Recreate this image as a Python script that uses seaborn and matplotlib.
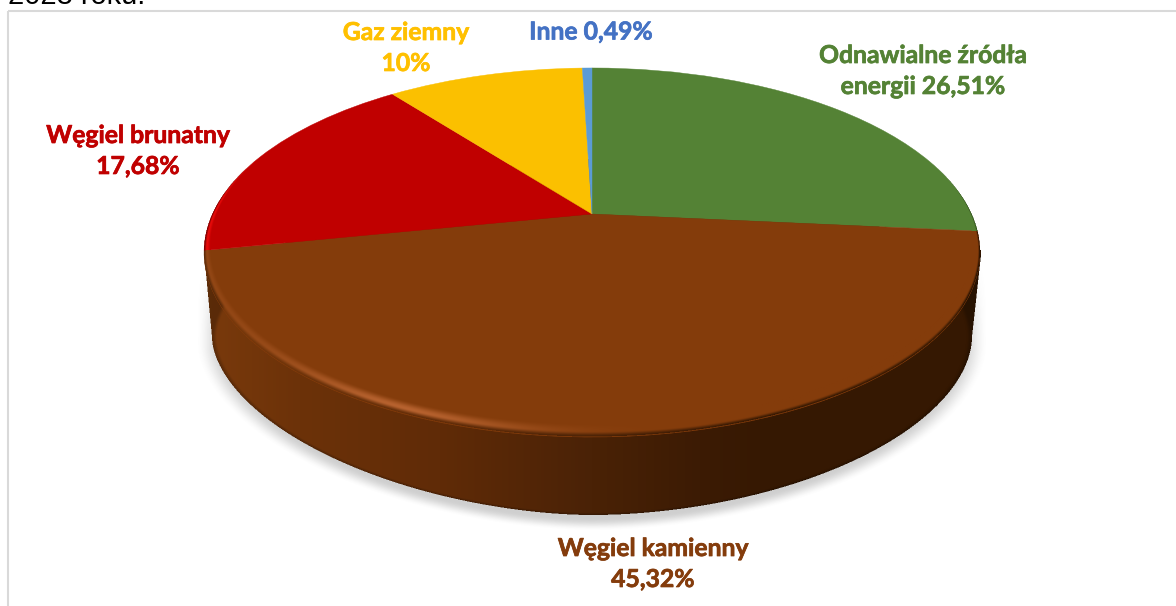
import numpy as np
import matplotlib
matplotlib.use("Agg")
import matplotlib.pyplot as plt
import matplotlib.patheffects as pe
from matplotlib.transforms import Transform
from matplotlib.patches import Rectangle
import seaborn as sns

# ---- data, clockwise from 12 o'clock ----
sources = ["Odnawialne źródła\nenergii", "Węgiel kamienny\n", "Węgiel brunatny\n", "Gaz ziemny\n", "Inne"]
shares = [26.51, 45.32, 17.68, 10.0, 0.49]
share_labels = ["26,51%", "45,32%", "17,68%", "10%", "0,49%"]
slice_colors = ["#548235", "#843c0b", "#c00000", "#fbc000", "#5b9bd5"]
label_colors = ["#548235", "#843c0c", "#c00000", "#ffc000", "#4472c4"]
caption = "2023 roku."

# ---- layout (pixels) ----
W, H = 1176, 606
label_xy = [(923, 71), (653, 564), (138, 151), (406, 48), (591, 32)]
CX, CY = 592.0, 214.0          # image of the pie centre
PA, PB, PC = 176.5, 0.2087, 379.4  # perspective of the top face
TOP = (252.0, 388.0, 184.5)    # outline of the top face: centre y, semi axes
INNER = (245.5, 381.0, 177.5)  # inner edge of the rounded rim
BOTTOM = (337.0, 380.0, 178.0) # outline of the base
SS = 2


class Tilt(Transform):
    input_dims = output_dims = 2
    is_separable = False
    has_inverse = False

    def transform_non_affine(self, values):
        v = np.asarray(values, float)
        w = 1 + PB * v[:, 1]
        return np.column_stack([CX + PC * v[:, 0] / w, CY - PA * v[:, 1] / w])


def smooth(t):
    t = np.clip(t, 0, 1)
    return t * t * (3 - 2 * t)


def down(rgba):
    h, w = rgba.shape[:2]
    a = rgba[..., 3:4]
    pm = np.concatenate([rgba[..., :3] * a, a], axis=2)
    pm = pm.reshape(h // SS, SS, w // SS, SS, 4).mean(axis=(1, 3))
    alpha = pm[..., 3:4]
    rgb = np.where(alpha > 0, pm[..., :3] / np.maximum(alpha, 1e-6), 0)
    return np.clip(np.concatenate([rgb, alpha], axis=2), 0, 1)


def ell(X, Y, spec):
    cy, a, b = spec
    return np.sqrt(((X - CX) / a) ** 2 + ((Y - cy) / b) ** 2)


sns.set_theme(style="white")
plt.rcParams["font.family"] = ["Lato", "DejaVu Sans"]
palette = sns.color_palette(slice_colors)

fig = plt.figure(figsize=(W / 100, H / 100), dpi=100, facecolor="white")
ax = fig.add_axes([0, 0, 1, 1])

wedges, _ = ax.pie(shares, colors=palette, startangle=90, counterclock=False,
                   wedgeprops=dict(linewidth=0.3, zorder=3))
tilt = Tilt()
for w, col in zip(wedges, palette):
    w.set_edgecolor(col)
    w.set_transform(tilt + ax.transData)
ax.set_aspect("auto")
ax.set_xlim(0, W)
ax.set_ylim(H, 0)
ax.axis("off")

# ---- pixel grid for the shading of the solid ----
xs = (np.arange(W * SS) + 0.5) / SS
ys = (np.arange(H * SS) + 0.5) / SS
X, Y = np.meshgrid(xs, ys)
d_top = ell(X, Y, TOP)
d_in = ell(X, Y, INNER)
p = np.where(X < CX, 1.8, 1.88)
d_bot = (np.abs((X - CX) / BOTTOM[1]) ** p + np.abs((Y - BOTTOM[0]) / BOTTOM[2]) ** p) ** (1 / p)

# which slice a pixel falls in (from the shares)
yp = CY - Y
uy = yp / (PA - PB * yp)
ux = (X - CX) * (1 + PB * uy) / PC
frac = (np.arctan2(ux, uy) % (2 * np.pi)) / (2 * np.pi)
edges = np.cumsum(shares) / np.sum(shares)
idx = np.minimum(np.searchsorted(edges, frac), len(shares) - 1)
face = np.array(palette)[idx]

# side wall colour, light at the left and dark at the right
side_x = [204, 300, 440, 592, 700, 770, 981]
side_rgb = np.array([[122, 58, 12], [108, 50, 9], [96, 43, 7], [74, 34, 6],
                     [60, 27, 4], [53, 24, 2], [53, 24, 2]]) / 255
side = np.stack([np.interp(X, side_x, side_rgb[:, i]) for i in range(3)], axis=2)
side *= (1 - 0.25 * smooth((d_bot - 0.985) / 0.015))[..., None]

# silhouette of the wall
left = np.interp(Y, [252, BOTTOM[0]], [204, CX - BOTTOM[1]])
right = np.interp(Y, [255, BOTTOM[0]], [981, CX + BOTTOM[1]])
wall = ((d_bot <= 1) | ((Y >= 250) & (Y <= BOTTOM[0]) & (X >= left) & (X <= right))).astype(float)

# soft shadow
sy = np.maximum(Y - 345, 0)
d_sh = (np.abs((X - CX) / 396) ** p + (sy / 186) ** p) ** (1 / p)
sh_alpha = 0.34 * (1 - smooth((d_sh - 0.93) / 0.07)) * smooth((Y - 255) / 85)
img_sh = np.dstack([np.full_like(X, 0.45)] * 3 + [sh_alpha])
ax.imshow(down(img_sh), extent=(0, W, H, 0), aspect="auto", zorder=1, interpolation="nearest")

img_side = np.dstack([side, wall])
ax.imshow(down(img_side), extent=(0, W, H, 0), aspect="auto", zorder=2, interpolation="nearest")

# rounded rim between top face and wall
s = np.clip((d_in - 1) / np.maximum(d_in - d_top, 1e-6), 0, 1)
L = np.where(X < 400, 0.25 + 0.75 * np.exp(-((X - 400) / 100) ** 2), np.exp(-((X - 400) / 130) ** 2))
glow = face + L[..., None] * np.array([0.20, 0.15, 0.14])
glow[..., 0] += (idx == 2) * 0.10
glow = np.clip(glow, 0, 1)
darkness = smooth((X - 560) / 200)       # 0 on the lit side, 1 on the shaded side
start = 0.6 + 0.1 * darkness
t1 = smooth(s / 0.6)[..., None]
t2 = smooth((s - start) / (1 - start))[..., None]
mid = glow * (1 - darkness[..., None]) + face * darkness[..., None]
is_brown = (idx == 1)[..., None]
end = np.where(is_brown, side, face * 0.6)
rim = (face * (1 - t1) + mid * t1) * (1 - t2) + end * t2
rim_a = ((d_in > 1) & (d_top <= 1)).astype(float) * smooth((Y - 150) / 60)
img_rim = np.dstack([rim, rim_a])
ax.imshow(down(img_rim), extent=(0, W, H, 0), aspect="auto", zorder=4, interpolation="nearest")

ax.set_xlim(0, W)
ax.set_ylim(H, 0)

# ---- chart frame and clipped caption ----
ax.add_patch(Rectangle((8, 11), W + 20, H + 20, facecolor="none", edgecolor="#d9d9d9", linewidth=1.5, zorder=0.5))
ax.text(8, 4.5, caption, family="Liberation Sans", fontsize=20.9, color="black", va="baseline", ha="left", zorder=6)

# ---- labels ----
for src, val, col, (x, y) in zip(sources, share_labels, label_colors, label_xy):
    txt = src + (" " if not src.endswith("\n") else "") + val
    ax.text(x, y, txt, color=col, fontsize=17.8, fontweight="bold", ha="center", va="center",
            linespacing=1.42, zorder=6,
            path_effects=[pe.withStroke(linewidth=0.5, foreground=col)])

fig.savefig("out.png", dpi=100)
